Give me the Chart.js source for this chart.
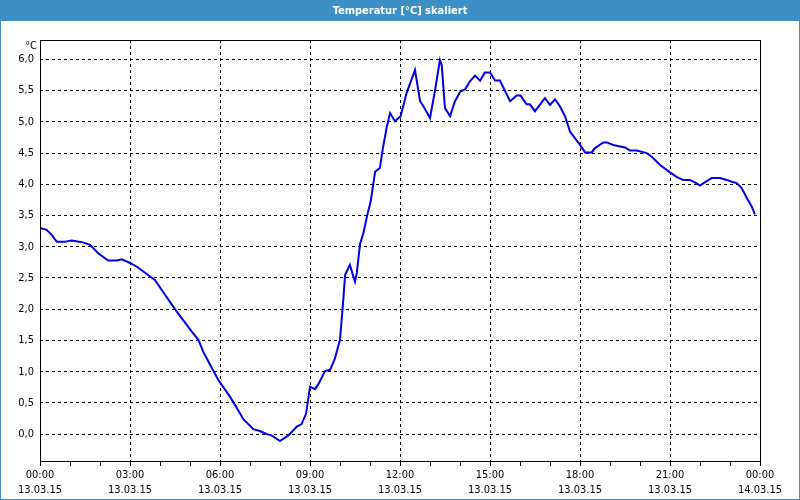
<!DOCTYPE html>
<html lang="de">
<head>
    <meta charset="UTF-8">
    <title>Temperatur [°C] skaliert</title>
    <script src="https://cdn.jsdelivr.net/npm/chart.js"></script>
    <style>
        html, body { margin: 0; padding: 0; background: #fff; }
        #chart { display: block; }
    </style>
</head>
<body>
    <canvas id="chart" width="800" height="500"></canvas>

    <script>
        // Time in hours since 13.03.15 00:00, temperature in °C
        var hours = [
            0, 0.22, 0.39, 0.56, 0.83, 1.06, 1.43, 1.67, 1.93, 2.27,
            2.57, 2.73, 3.0, 3.23, 3.57, 3.83, 4.1, 4.4, 4.56, 4.89,
            5.06, 5.28, 5.44, 5.67, 5.94, 6.33, 6.61, 6.78, 7.11, 7.33,
            7.56, 7.72, 8.0, 8.28, 8.56, 8.72, 8.87, 9.0, 9.17, 9.28,
            9.5, 9.67, 9.83, 10.0, 10.11, 10.17, 10.33, 10.5, 10.56, 10.67,
            10.78, 10.91, 11.02, 11.17, 11.33, 11.42, 11.56, 11.67, 11.83, 12.02,
            12.22, 12.5, 12.67, 12.78, 13.0, 13.17, 13.33, 13.39, 13.5, 13.67,
            13.83, 14.02, 14.17, 14.33, 14.5, 14.67, 14.83, 15.0, 15.17, 15.33,
            15.67, 15.89, 16.02, 16.22, 16.33, 16.5, 16.83, 17.0, 17.17, 17.33,
            17.5, 17.67, 17.83, 18.0, 18.17, 18.39, 18.5, 18.78, 18.89, 19.11,
            19.5, 19.67, 19.89, 20.22, 20.39, 20.67, 21.0, 21.22, 21.44, 21.67,
            21.83, 22.0, 22.22, 22.39, 22.67, 22.89, 23.06, 23.22, 23.39, 23.56,
            23.72, 23.83
        ];
        var temps = [
            3.30, 3.27, 3.19, 3.08, 3.08, 3.10, 3.07, 3.03, 2.90, 2.78,
            2.78, 2.80, 2.74, 2.68, 2.56, 2.47, 2.28, 2.07, 1.96, 1.75,
            1.64, 1.51, 1.32, 1.11, 0.87, 0.60, 0.38, 0.24, 0.08, 0.05,
            0.00, -0.02, -0.11, -0.02, 0.12, 0.16, 0.33, 0.76, 0.72, 0.80,
            1.01, 1.03, 1.21, 1.51, 2.15, 2.55, 2.71, 2.44, 2.58, 3.05,
            3.22, 3.51, 3.72, 4.20, 4.26, 4.55, 4.92, 5.14, 5.01, 5.09,
            5.46, 5.83, 5.33, 5.25, 5.06, 5.51, 5.99, 5.91, 5.22, 5.09,
            5.33, 5.49, 5.52, 5.65, 5.74, 5.66, 5.79, 5.79, 5.66, 5.66,
            5.33, 5.42, 5.42, 5.28, 5.28, 5.17, 5.38, 5.27, 5.36, 5.25,
            5.09, 4.84, 4.74, 4.63, 4.51, 4.51, 4.58, 4.67, 4.67, 4.63,
            4.59, 4.54, 4.54, 4.50, 4.44, 4.31, 4.19, 4.12, 4.07, 4.07,
            4.03, 3.98, 4.05, 4.10, 4.10, 4.07, 4.04, 4.02, 3.94, 3.78,
            3.65, 3.52
        ];
        var yTicks = [0, 0.5, 1, 1.5, 2, 2.5, 3, 3.5, 4, 4.5, 5, 5.5, 6];
        var timeLabels = ['00:00', '03:00', '06:00', '09:00', '12:00', '15:00', '18:00', '21:00', '00:00'];
        var dateLabels = ['13.03.15', '13.03.15', '13.03.15', '13.03.15', '13.03.15', '13.03.15', '13.03.15', '13.03.15', '14.03.15'];

        var FONT = '"DejaVu Sans Condensed", "Liberation Sans", sans-serif';
        var BAR = '#3d8fc5';

        // window frame, title bar, plot box and unit label
        var framePlugin = {
            id: 'frame',
            beforeDraw: function(chart) {
                var c = chart.ctx;
                c.save();
                c.fillStyle = '#fff';
                c.fillRect(0, 0, chart.width, chart.height);
                c.restore();
            },
            afterDraw: function(chart) {
                var c = chart.ctx, a = chart.chartArea;
                c.save();
                c.fillStyle = BAR;
                c.fillRect(0, 0, chart.width, 21);
                c.fillRect(0, 0, 1, chart.height);
                c.fillRect(chart.width - 1, 0, 1, chart.height);
                c.fillRect(0, chart.height - 1, chart.width, 1);
                c.fillStyle = '#fff';
                c.font = 'bold 11px ' + FONT;
                c.textAlign = 'center';
                c.textBaseline = 'middle';
                c.fillText('Temperatur [°C] skaliert', chart.width / 2, 11);

                c.strokeStyle = '#000';
                c.lineWidth = 1;
                c.strokeRect(Math.round(a.left) + 0.5, Math.round(a.top) + 0.5,
                             Math.round(a.right - a.left), Math.round(a.bottom - a.top));

                c.fillStyle = '#000';
                c.font = '11px ' + FONT;
                c.textAlign = 'right';
                c.fillText('°C', a.left - 3, a.top + 6);
                c.restore();
            }
        };

        var points = hours.map(function(h, i) { return {x: h, y: temps[i]}; });

        new Chart(document.getElementById('chart').getContext('2d'), {
            type: 'line',
            data: {
                datasets: [{
                    data: points,
                    borderColor: 'rgb(0, 0, 230)',
                    borderWidth: 2,
                    pointRadius: 0,
                    tension: 0,
                    fill: false
                }]
            },
            options: {
                responsive: false,
                animation: false,
                devicePixelRatio: 1,
                layout: { padding: { left: 0, top: 40, right: 40, bottom: 0 } },
                plugins: {
                    legend: { display: false },
                    tooltip: { enabled: false },
                    title: { display: false }
                },
                scales: {
                    x: {
                        type: 'linear',
                        min: 0,
                        max: 24,
                        afterFit: function(s) { s.height = 39; },
                        afterBuildTicks: function(s) {
                            var t = [];
                            for (var h = 0; h <= 24; h++) t.push({value: h});
                            s.ticks = t;
                        },
                        border: { display: false, dash: [3, 3] },
                        grid: {
                            color: function(ctx) {
                                return ctx.tick && ctx.tick.value % 3 === 0 ? '#000' : 'rgba(0,0,0,0)';
                            },
                            tickColor: '#000',
                            tickLength: 5,
                            lineWidth: 1
                        },
                        ticks: {
                            autoSkip: false,
                            maxRotation: 0,
                            padding: 2,
                            color: '#000',
                            font: { family: FONT, size: 11, lineHeight: 1.35 },
                            callback: function(v) {
                                if (v % 3 !== 0) return '';
                                var i = v / 3;
                                return [timeLabels[i], dateLabels[i]];
                            }
                        }
                    },
                    y: {
                        min: -0.43,
                        max: 6.31,
                        afterFit: function(s) { s.width = 40; },
                        afterBuildTicks: function(s) {
                            s.ticks = yTicks.map(function(v) { return {value: v}; });
                        },
                        border: { display: false, dash: [3, 3] },
                        grid: {
                            color: '#000',
                            drawTicks: false,
                            lineWidth: 1
                        },
                        ticks: {
                            padding: 6,
                            color: '#000',
                            font: { family: FONT, size: 11 },
                            callback: function(v) { return v.toFixed(1).replace('.', ','); }
                        }
                    }
                }
            },
            plugins: [framePlugin]
        });
    </script>
</body>
</html>
